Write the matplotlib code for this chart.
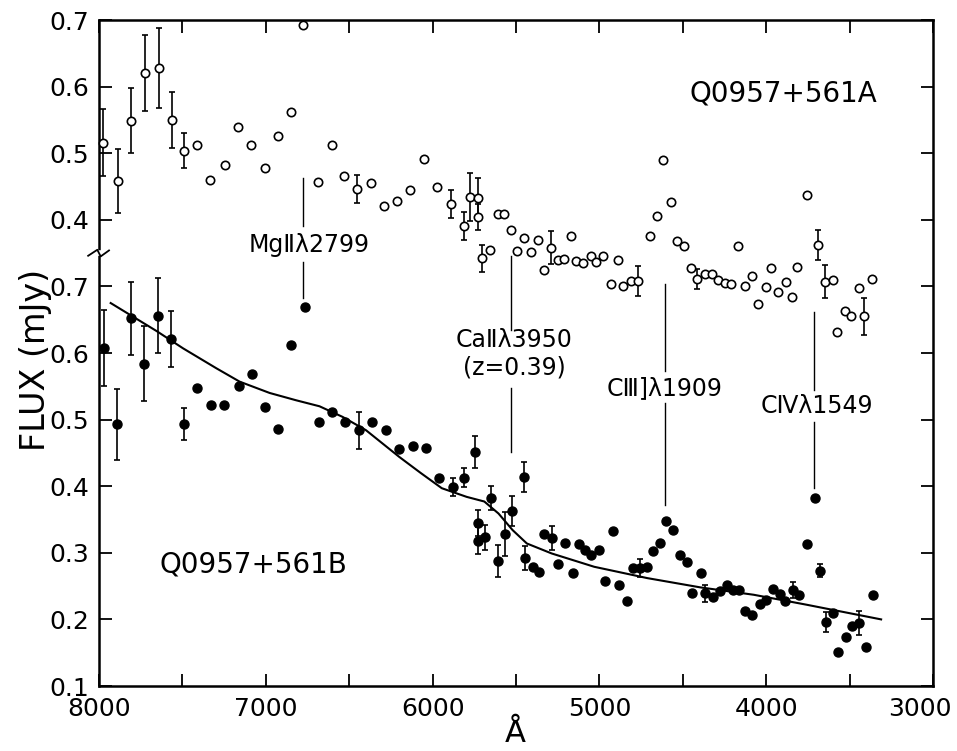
import matplotlib
matplotlib.use("Agg")
import matplotlib.pyplot as plt
import matplotlib.transforms as mtransforms
import numpy as np

# ---------------- data ----------------
# Q0957+561 A (open circles, upper panel; true flux in mJy)
wl_a = [7974, 7886, 7809, 7723, 7643, 7563, 7493, 7414, 7332, 7246, 7165, 7091,
        7007, 6928, 6850, 6776, 6690, 6606, 6533, 6455, 6369, 6290, 6216, 6136,
        6050, 5973, 5888, 5811, 5777, 5726, 5726, 5703, 5655, 5610, 5574, 5531,
        5495, 5452, 5410, 5367, 5335, 5292, 5250, 5213, 5172, 5138, 5096, 5053,
        5021, 4978, 4929, 4888, 4857, 4813, 4771, 4694, 4657, 4617, 4570, 4536,
        4493, 4450, 4412, 4369, 4322, 4288, 4249, 4209, 4169, 4130, 4087, 4049,
        3999, 3972, 3927, 3884, 3844, 3814, 3758, 3692, 3646, 3601, 3576, 3526,
        3491, 3445, 3412, 3365]
flux_a = [0.516, 0.458, 0.549, 0.621, 0.628, 0.550, 0.504, 0.513, 0.460, 0.483, 0.539, 0.512,
          0.478, 0.526, 0.562, 0.692, 0.457, 0.513, 0.466, 0.446, 0.456, 0.420, 0.428, 0.445,
          0.491, 0.449, 0.424, 0.390, 0.434, 0.433, 0.404, 0.342, 0.355, 0.408, 0.408, 0.384,
          0.353, 0.373, 0.352, 0.369, 0.324, 0.358, 0.339, 0.341, 0.375, 0.338, 0.335, 0.345,
          0.337, 0.345, 0.304, 0.340, 0.301, 0.308, 0.308, 0.375, 0.405, 0.490, 0.426, 0.368,
          0.361, 0.327, 0.311, 0.319, 0.318, 0.310, 0.305, 0.304, 0.360, 0.301, 0.316, 0.274,
          0.299, 0.328, 0.291, 0.307, 0.284, 0.329, 0.437, 0.362, 0.307, 0.310, 0.232, 0.263,
          0.256, 0.298, 0.255, 0.311]
err_a = [0.050, 0.048, 0.049, 0.057, 0.060, 0.042, 0.026, 0, 0, 0, 0, 0,
         0, 0, 0, 0, 0, 0, 0, 0.021, 0, 0, 0, 0,
         0, 0, 0.021, 0.021, 0.036, 0.030, 0.020, 0.020, 0, 0, 0, 0,
         0, 0, 0, 0, 0, 0.025, 0, 0, 0, 0, 0, 0,
         0, 0, 0, 0, 0, 0, 0.022, 0, 0, 0, 0, 0,
         0, 0, 0.015, 0, 0, 0, 0, 0, 0, 0, 0, 0,
         0, 0, 0, 0, 0, 0, 0, 0.022, 0.025, 0, 0, 0,
         0, 0, 0.028, 0]

# Q0957+561 B (filled circles, lower panel)
wl_b = [7970, 7894, 7811, 7729, 7649, 7569, 7490, 7410, 7328, 7249, 7163, 7083,
        7007, 6925, 6846, 6766, 6683, 6603, 6525, 6443, 6365, 6282, 6202, 6116,
        6041, 5962, 5877, 5809, 5747, 5728, 5728, 5684, 5651, 5607, 5566, 5524,
        5452, 5446, 5399, 5361, 5334, 5286, 5249, 5206, 5161, 5125, 5087, 5049,
        5004, 4966, 4919, 4883, 4834, 4797, 4759, 4717, 4678, 4638, 4602, 4560,
        4517, 4474, 4443, 4392, 4364, 4319, 4277, 4234, 4200, 4166, 4127, 4084,
        4037, 3999, 3959, 3920, 3886, 3842, 3805, 3757, 3710, 3678, 3644, 3597,
        3572, 3523, 3483, 3442, 3400, 3360]
flux_b = [0.607, 0.493, 0.652, 0.584, 0.656, 0.621, 0.493, 0.547, 0.522, 0.522, 0.551, 0.568,
          0.519, 0.486, 0.612, 0.669, 0.497, 0.512, 0.496, 0.484, 0.496, 0.485, 0.456, 0.461,
          0.457, 0.412, 0.399, 0.413, 0.451, 0.345, 0.318, 0.323, 0.383, 0.287, 0.328, 0.363,
          0.414, 0.292, 0.279, 0.271, 0.328, 0.322, 0.283, 0.315, 0.270, 0.313, 0.304, 0.297,
          0.304, 0.258, 0.333, 0.251, 0.228, 0.277, 0.277, 0.279, 0.302, 0.314, 0.348, 0.334,
          0.296, 0.286, 0.239, 0.269, 0.239, 0.234, 0.243, 0.251, 0.244, 0.244, 0.213, 0.206,
          0.223, 0.229, 0.245, 0.238, 0.227, 0.244, 0.237, 0.313, 0.383, 0.273, 0.196, 0.209,
          0.151, 0.173, 0.190, 0.194, 0.158, 0.236]
err_b = [0.057, 0.053, 0.055, 0.056, 0.056, 0.042, 0.024, 0, 0, 0, 0, 0,
         0, 0, 0, 0, 0, 0, 0, 0.028, 0, 0, 0, 0,
         0, 0, 0.014, 0.014, 0.024, 0.020, 0.020, 0.019, 0.018, 0.024, 0.033, 0.023,
         0.022, 0.018, 0, 0, 0, 0.018, 0, 0, 0, 0, 0, 0,
         0, 0, 0, 0, 0, 0, 0.013, 0, 0, 0, 0, 0,
         0, 0, 0, 0, 0.013, 0, 0, 0, 0, 0, 0, 0,
         0, 0, 0, 0, 0, 0.012, 0, 0, 0, 0.010, 0.015, 0,
         0, 0, 0, 0.018, 0, 0]

# smooth continuum fit through B
fit_wl = [7930, 7655, 7496, 7296, 7157, 6977, 6818, 6678, 6539, 6399, 6200, 6072,
          5945, 5796, 5690, 5605, 5520, 5435, 5286, 5031, 4713, 4393, 4075, 3757, 3311]
fit_flux = [0.675, 0.633, 0.607, 0.577, 0.557, 0.540, 0.529, 0.520, 0.504, 0.484, 0.444, 0.420,
            0.397, 0.384, 0.377, 0.359, 0.334, 0.314, 0.299, 0.279, 0.262, 0.248, 0.237, 0.222, 0.200]

x_ticks = [8000, 7000, 6000, 5000, 4000, 3000]
b_ticks = [0.1, 0.2, 0.3, 0.4, 0.5, 0.6, 0.7]
a_ticks = [0.4, 0.5, 0.6, 0.7]

# ---------------- figure ----------------
plt.rcParams['font.family'] = ['DejaVu Sans']
fig = plt.figure(figsize=(9.57, 7.51), dpi=100)
pos = [99 / 957, 1 - 686 / 751, 834 / 957, 666 / 751]
ax = fig.add_axes(pos)
ax.set_xlim(8000, 3000)
ax.set_ylim(0.1, 1.1)

axa = fig.add_axes(pos, sharex=ax, frameon=False)
axa.set_ylim(-0.3, 0.7)
axa.patch.set_visible(False)

tick_kw = dict(direction='in', length=9, width=1.3, colors='black')

ax.set_xticks(x_ticks)
ax.set_xticklabels([str(t) for t in x_ticks], fontsize=18)
ax.set_xticks(np.arange(3500, 8000, 1000), minor=True)
ax.tick_params(axis='x', which='both', top=True, bottom=True, pad=8, **tick_kw)
ax.set_yticks(b_ticks)
ax.set_yticklabels([f"{t:.1f}" for t in b_ticks], fontsize=18)
ax.tick_params(axis='y', which='both', left=True, right=True, labelright=False, pad=7, **tick_kw)

# nudge the last x label so it stays inside the figure
lbl = ax.get_xticklabels()[-1]
lbl.set_transform(lbl.get_transform() +
                  mtransforms.ScaledTranslation(-13 / 100, 0, fig.dpi_scale_trans))

axa.set_yticks(a_ticks)
axa.set_yticklabels([f"{t:.1f}" for t in a_ticks], fontsize=18)
axa.tick_params(axis='y', left=True, right=True, labelleft=True, labelright=False, pad=7, **tick_kw)
axa.tick_params(axis='x', which='both', bottom=False, top=False, labelbottom=False)

for s in ax.spines.values():
    s.set_linewidth(1.8)

# continuum fit
ax.plot(fit_wl, fit_flux, color='black', lw=1.5, zorder=2)

# B points
wl_b_arr, fb, eb = np.array(wl_b), np.array(flux_b), np.array(err_b)
mb = eb > 0
ax.errorbar(wl_b_arr[mb], fb[mb], yerr=eb[mb], fmt='none', ecolor='black',
            elinewidth=1.2, capsize=2.5, capthick=1.2, zorder=3)
ax.plot(wl_b_arr, fb, 'o', color='black', ms=6.5, zorder=4)

# A points
wl_a_arr, fa, ea = np.array(wl_a), np.array(flux_a), np.array(err_a)
ma = ea > 0
axa.errorbar(wl_a_arr[ma], fa[ma], yerr=ea[ma], fmt='none', ecolor='black',
             elinewidth=1.2, capsize=2.5, capthick=1.2, zorder=3)
axa.plot(wl_a_arr, fa, 'o', mfc='white', mec='black', mew=1.2, ms=6, zorder=4,
         clip_on=False)

# emission line markers
lk = dict(color='black', lw=1.0, zorder=1)
ax.plot([6776, 6776], [0.863, 0.790], **lk)
ax.plot([6776, 6776], [0.737, 0.683], **lk)
ax.text(6740, 0.762, "MgⅡλ2799", fontsize=17, ha='center', va='center')

ax.plot([5530, 5530], [0.746, 0.635], **lk)
ax.plot([5530, 5530], [0.547, 0.451], **lk)
ax.text(5512, 0.619, "CaⅡλ3950", fontsize=17, ha='center', va='center')
ax.text(5512, 0.578, "(z=0.39)", fontsize=17, ha='center', va='center')

ax.plot([4609, 4609], [0.704, 0.573], **lk)
ax.plot([4605, 4605], [0.525, 0.372], **lk)
ax.text(4612, 0.548, "CⅢ]λ1909", fontsize=17, ha='center', va='center')

ax.plot([3712, 3712], [0.662, 0.545], **lk)
ax.plot([3712, 3712], [0.497, 0.397], **lk)
ax.text(3694, 0.520, "CⅣλ1549", fontsize=17, ha='center', va='center')

ax.text(3897, 0.989, "Q0957+561A", fontsize=20, ha='center', va='center')
ax.text(7073, 0.282, "Q0957+561B", fontsize=20, ha='center', va='center')

# axis break mark on the left spine
yb = (0.75 - 0.1) / 1.0
ax.plot([-0.004, 0.004], [yb, yb], transform=ax.transAxes, color='white', lw=4,
        clip_on=False, zorder=5, solid_capstyle='butt')
ax.plot([-0.013, -0.002, 0.002, 0.012], [yb - 0.004, yb + 0.005, yb - 0.005, yb + 0.004],
        transform=ax.transAxes, color='black', lw=1.3, clip_on=False, zorder=6)

fig.text(36 / 957, 1 - 360 / 751, "FLUX (mJy)", rotation=90, fontsize=24,
         ha='center', va='center')
fig.text(515 / 957, 1 - 733 / 751, "Å", fontsize=22, ha='center', va='center')

fig.savefig("out.png", dpi=100)
